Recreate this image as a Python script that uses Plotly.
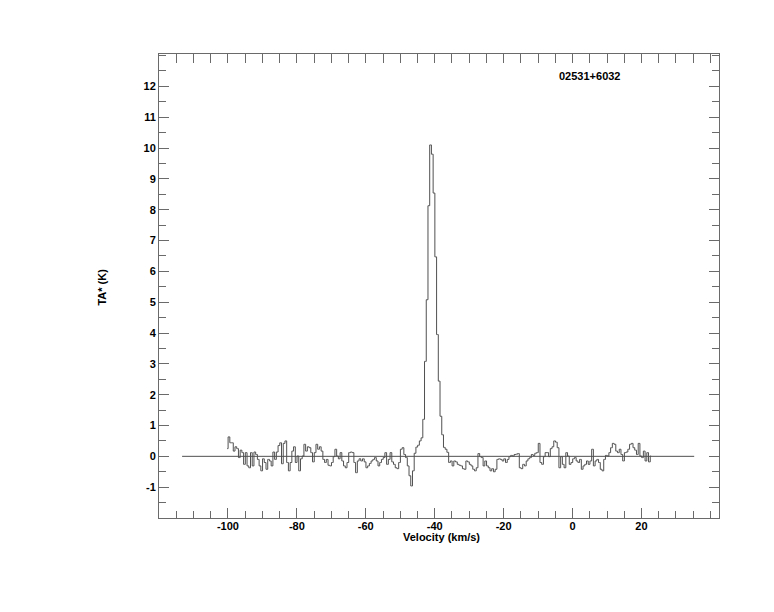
import plotly.graph_objects as go

# ---------------- data ----------------
v_start = -100.2          # first channel centre (km/s)
chan_width = 0.5          # channel width (km/s)

ta_values = [
    # v = -100.2 ... -82.7
    0.25, 0.63, 0.44, 0.44, 0.17, 0.31, 0.25, -0.04, 0.2, 0.12,
    -0.26, 0.12, -0.31, -0.37, 0.12, -0.31, 0.14, 0.06, -0.1, -0.31,
    -0.47, -0.08, -0.2, -0.42, -0.1, -0.15, -0.31, 0.14, -0.1, 0.14,
    0.35, 0.44, -0.24, 0.42, 0.5, -0.2,
    # v = -82.2 ... -46.7
    -0.47, -0.2, 0.17, 0.31, -0.2, 0.01, -0.47, -0.08, 0.01, 0.39,
    0.17, 0.31, 0.28, 0.12, -0.18, 0.12, 0.39, 0.23, 0.31, 0.17,
    -0.1, -0.2, -0.1, -0.29, -0.31, -0.2, -0.01, 0.23, 0.01, -0.08,
    0.12, -0.15, -0.31, -0.37, -0.2, 0.12, 0.14, 0.12, -0.2, -0.53,
    -0.15, -0.08, -0.15, -0.08, -0.18, -0.37, -0.31, -0.23, -0.15, -0.1,
    -0.04, -0.15, -0.31, -0.2, -0.1, -0.04, 0.12, -0.26, -0.1, 0.12,
    -0.18, -0.26, -0.37, -0.4, -0.2, 0.23, 0.28, 0.06, -0.04, -0.31,
    -0.63, -0.96,
    # line: v = -46.2 ... -35.7
    -0.47, 0.1, 0.3, 0.36, 0.5, 0.6, 1.2, 3.08, 5.08, 8.13,
    10.1, 9.8, 8.54, 6.47, 3.95, 2.44, 1.3, 0.7, 0.29, 0.23,
    0.13, -0.2,
    # v = -35.2 ... 1.8
    -0.15, -0.31, -0.15, -0.18, -0.26, -0.29, -0.31, -0.4, -0.42, -0.15,
    -0.18, -0.26, -0.31, -0.42, -0.47, -0.37, 0.09, -0.01, -0.04, -0.31,
    -0.15, -0.31, -0.37, -0.47, -0.4, -0.5, -0.42, -0.1, -0.08, -0.1,
    -0.15, -0.08, -0.2, -0.1, -0.01, 0.03, 0.01, 0.06, 0.07, 0.09,
    -0.37, -0.4, -0.26, -0.31, -0.15, -0.08, -0.04, 0.06, 0.03, 0.1,
    0.12, 0.42, -0.2, -0.26, -0.01, 0.12, 0.12, -0.01, 0.25, 0.31,
    0.5, 0.46, 0.28, -0.37, -0.01, -0.26, -0.37, 0.12, 0.01, -0.26,
    -0.2, -0.08, -0.04, -0.15, -0.2,
    # v = 2.3 ... 22.8
    -0.1, -0.42, -0.31, -0.26, -0.15, -0.26, -0.15, 0.23, -0.31, -0.15,
    -0.1, -0.2, -0.42, -0.47, -0.1, 0.03, 0.01, 0.12, 0.28, 0.42,
    0.39, 0.17, 0.12, 0.23, 0.06, -0.15, 0.12, 0.14, 0.23, 0.39,
    0.42, 0.28, 0.2, 0.06, 0.42, 0.01, -0.04, 0.17, -0.15, 0.12,
    -0.18, 0.01,
]
velocities = [v_start + chan_width * i for i in range(len(ta_values))]

baseline_x = [-113.3, 35.3]
baseline_y = [0, 0]

x_tickvals = [-100, -80, -60, -40, -20, 0, 20]
x_ticktext = ["-100", "-80", "-60", "-40", "-20", "0", "20"]
y_tickvals = [-1, 0, 1, 2, 3, 4, 5, 6, 7, 8, 9, 10, 11, 12]
y_ticktext = ["-1", "0", "1", "2", "3", "4", "5", "6", "7", "8", "9", "10", "11", "12"]

source_name = "02531+6032"
x_title = "Velocity (km/s)"
y_title = "TA* (K)"

# ---------------- figure ----------------
line_col = "#505050"
axis_col = "#6a6a6a"
font = dict(family="Liberation Sans, Arial, sans-serif", size=11, color="black", weight="bold")

fig = go.Figure()
fig.add_trace(go.Scatter(x=baseline_x, y=baseline_y, mode="lines",
                         line=dict(color=line_col, width=1), hoverinfo="skip"))
fig.add_trace(go.Scatter(x=velocities, y=ta_values, mode="lines",
                         line=dict(color=line_col, width=1, shape="hvh")))
# invisible trace to activate the top axis
fig.add_trace(go.Scatter(x=[velocities[0]], y=[0], xaxis="x2", mode="markers",
                         marker=dict(opacity=0), hoverinfo="skip"))

fig.update_layout(
    width=766, height=604,
    margin=dict(l=151, r=55, t=46, b=94),
    paper_bgcolor="white", plot_bgcolor="white",
    showlegend=False,
    xaxis=dict(range=[-120, 42.5], showgrid=False, zeroline=False,
               showline=True, linecolor=axis_col, linewidth=1, mirror=True,
               ticks="inside", ticklen=10, tickcolor=axis_col, tickwidth=1,
               tickvals=x_tickvals, ticktext=x_ticktext, tickfont=font,
               ticklabelstandoff=-2,
               minor=dict(ticks="inside", ticklen=7, dtick=5, tick0=0,
                          tickcolor=axis_col, showgrid=False)),
    xaxis2=dict(range=[-120, 42.5], overlaying="x", side="top", matches="x",
                showgrid=False, zeroline=False, showline=False,
                ticks="inside", ticklen=9, tickcolor=axis_col, dtick=5, tick0=0,
                showticklabels=False),
    yaxis=dict(range=[-2, 13.05], showgrid=False, zeroline=False,
               showline=True, linecolor=axis_col, linewidth=1, mirror="ticks",
               ticks="inside", ticklen=10, tickcolor=axis_col, tickwidth=1,
               tickvals=y_tickvals, ticktext=y_ticktext, tickfont=font,
               minor=dict(ticks="inside", ticklen=7, dtick=0.5, tick0=0,
                          tickcolor=axis_col, showgrid=False)),
    annotations=[
        dict(text=source_name, xref="paper", yref="paper", x=0.71, y=0.953,
             xanchor="left", yanchor="middle", showarrow=False, font=font),
        dict(text=x_title, xref="paper", yref="paper", x=0.505, y=-0.042,
             xanchor="center", yanchor="middle", showarrow=False, font=font),
        dict(text=y_title, xref="paper", yref="paper", x=-0.102, y=0.4985,
             xanchor="center", yanchor="middle", showarrow=False, font=font,
             textangle=-90),
    ],
)

fig.write_html("out.html")
